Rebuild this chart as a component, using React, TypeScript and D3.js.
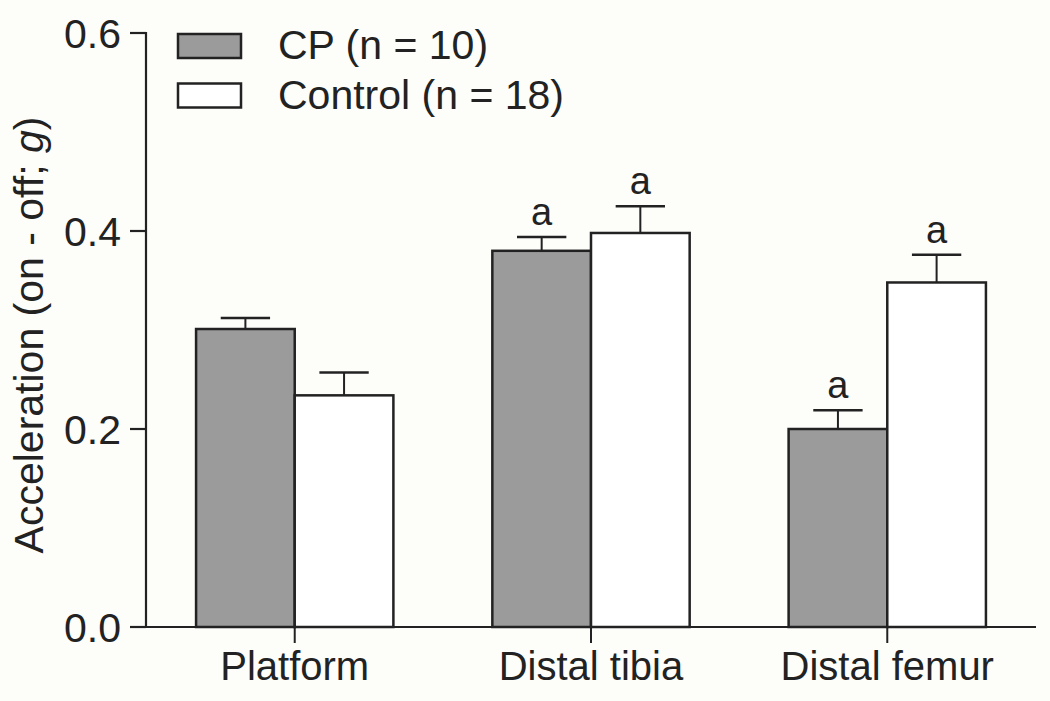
import React from "react";
import * as d3 from "d3";

const categories = ["Platform", "Distal tibia", "Distal femur"];
const cpMeans = [0.301, 0.380, 0.200];
const cpSem = [0.011, 0.014, 0.019];
const ctrlMeans = [0.234, 0.398, 0.348];
const ctrlSem = [0.023, 0.027, 0.028];
const cpSig = ["", "a", "a"];
const ctrlSig = ["", "a", "a"];
const yTicks = [0.0, 0.2, 0.4, 0.6];
const seriesNames = ["CP (n = 10)", "Control (n = 18)"];

const W = 1050;
const H = 701;
const FONT = "'Liberation Sans', Arial, Helvetica, sans-serif";

export default function App() {
  const y = d3.scaleLinear().domain([0, 0.6]).range([627, 33]);
  const x = d3
    .scaleBand<string>()
    .domain(categories)
    .range([146, 1036])
    .paddingInner(0.334)
    .paddingOuter(0.169);
  const sub = d3
    .scaleBand<string>()
    .domain(["cp", "ctrl"])
    .range([0, x.bandwidth()]);
  const bw = sub.bandwidth();

  const series = [
    { key: "cp", means: cpMeans, sem: cpSem, sig: cpSig, fill: "#9b9b9b" },
    { key: "ctrl", means: ctrlMeans, sem: ctrlSem, sig: ctrlSig, fill: "#ffffff" },
  ];

  const x0 = 146;
  const y0 = y(0);

  return (
    <svg
      width={W}
      height={H}
      style={{ position: "absolute", left: 0, top: 0, background: "#fdfdfa" }}
      fontFamily={FONT}
    >
      <rect x={0} y={0} width={W} height={H} fill="#fdfdfa" />
      {/* bars */}
      {series.map((s) =>
        categories.map((c, i) => {
          const bx = (x(c) as number) + (sub(s.key) as number);
          const top = y(s.means[i]);
          const errTop = y(s.means[i] + s.sem[i]);
          const cx = bx + bw / 2;
          return (
            <g key={s.key + c}>
              <line x1={cx} x2={cx} y1={top} y2={errTop} stroke="#222" strokeWidth={2} />
              <line x1={cx - bw / 4} x2={cx + bw / 4} y1={errTop} y2={errTop} stroke="#222" strokeWidth={2.5} />
              <rect
                x={bx}
                y={top}
                width={bw}
                height={y0 - top}
                fill={s.fill}
                stroke="#222"
                strokeWidth={2.5}
              />
              {s.sig[i] && (
                <text x={cx} y={errTop - 12} textAnchor="middle" fontSize={38} fill="#222">
                  {s.sig[i]}
                </text>
              )}
            </g>
          );
        })
      )}
      {/* y axis */}
      <line x1={x0} x2={x0} y1={y(0.6) - 1} y2={y0} stroke="#222" strokeWidth={2.2} />
      {yTicks.map((t) => (
        <g key={t}>
          <line x1={130} x2={x0} y1={y(t)} y2={y(t)} stroke="#222" strokeWidth={2.2} />
          <text x={121} y={y(t)} dy="0.36em" textAnchor="end" fontSize={41} fill="#222">
            {t.toFixed(1)}
          </text>
        </g>
      ))}
      {/* x axis */}
      <line x1={130} x2={1036} y1={y0} y2={y0} stroke="#222" strokeWidth={2.2} />
      {categories.map((c) => {
        const cx = (x(c) as number) + x.bandwidth() / 2;
        return (
          <g key={c}>
            <line x1={cx} x2={cx} y1={y0} y2={y0 + 16} stroke="#222" strokeWidth={2} />
            <text x={cx} y={680} textAnchor="middle" fontSize={40} fill="#222">
              {c}
            </text>
          </g>
        );
      })}
      {/* y label */}
      <text
        transform={`translate(43, 335) rotate(-90)`}
        textAnchor="middle"
        fontSize={41}
        fill="#222"
      >
        Acceleration (on - off; <tspan fontStyle="italic">g</tspan>)
      </text>
      {/* legend */}
      {series.map((s, i) => (
        <g key={"leg" + s.key}>
          <rect
            x={178}
            y={34 + i * 49.5}
            width={63}
            height={24}
            fill={s.fill}
            stroke="#222"
            strokeWidth={2.5}
          />
          <text x={278} y={59 + i * 50} fontSize={41} fill="#222">
            {seriesNames[i]}
          </text>
        </g>
      ))}
    </svg>
  );
}
